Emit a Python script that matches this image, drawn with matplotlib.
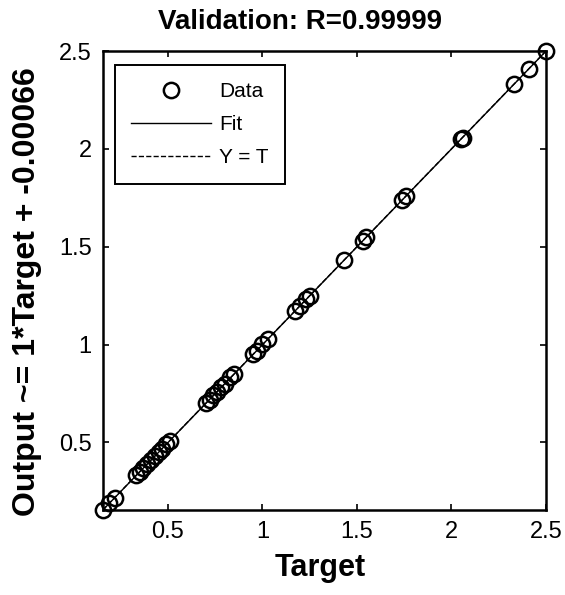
import matplotlib.pyplot as plt
import numpy as np

plt.rcParams['font.family'] = ['Liberation Sans', 'DejaVu Sans']

# Validation set: targets and network outputs
targets = [0.155, 0.19, 0.22,
           0.33, 0.35, 0.37, 0.39, 0.41, 0.43, 0.45, 0.47, 0.49, 0.51,
           0.70, 0.72, 0.74, 0.76, 0.78, 0.80, 0.83, 0.85,
           0.95, 0.97, 1.00, 1.03,
           1.17, 1.20, 1.23, 1.25,
           1.43, 1.53, 1.55, 1.74, 1.76, 2.05, 2.06, 2.33, 2.41, 2.50]
outputs = [0.153, 0.192, 0.218,
           0.332, 0.348, 0.371, 0.388, 0.412, 0.429, 0.452, 0.468, 0.491, 0.508,
           0.701, 0.719, 0.742, 0.758, 0.781, 0.799, 0.832, 0.848,
           0.951, 0.968, 1.002, 1.029,
           1.171, 1.198, 1.232, 1.249,
           1.431, 1.528, 1.552, 1.738, 1.761, 2.049, 2.058, 2.331, 2.408, 2.499]

slope = 1.0
offset = -0.00066
r_value = 0.99999

lims = [0.155, 2.5]
ticks = [0.5, 1, 1.5, 2, 2.5]

fig = plt.figure(figsize=(5.65, 5.95), dpi=100)
ax = fig.add_axes([0.182, 0.143, 0.784, 0.771])

t = np.array(targets)
ax.plot(t, outputs, 'o', mfc='none', mec='black', mew=1.8, ms=11,
        label='Data', clip_on=False, zorder=3)
fit_x = np.array(lims)
ax.plot(fit_x, slope * fit_x + offset, '-', color='black', lw=1.0, label='Fit')
ax.plot(fit_x, fit_x, '--', color='black', lw=1.0, label='Y = T')

ax.set_xlim(lims)
ax.set_ylim(lims)
ax.set_xticks(ticks)
ax.set_yticks(ticks)
ax.set_xticklabels(['0.5', '1', '1.5', '2', '2.5'])
ax.set_yticklabels(['0.5', '1', '1.5', '2', '2.5'])
ax.tick_params(direction='in', top=True, right=True, length=4, width=1.2,
               labelsize=17, pad=8)
for s in ax.spines.values():
    s.set_linewidth(1.8)

ax.set_title('Validation: R=%.5f' % r_value, fontsize=20, fontweight='bold',
             x=0.445, y=1.03)
ax.set_xlabel('Target', fontsize=22, fontweight='bold')
ax.xaxis.set_label_coords(0.49, -0.095)
ax.set_ylabel('Output ~= %g*Target + %.5f' % (slope, offset), fontsize=23,
              fontweight='bold')
ax.yaxis.set_label_coords(-0.137, 0.475)

leg = ax.legend(loc='upper left', bbox_to_anchor=(0.027, 0.969), borderaxespad=0,
                fontsize=15, handlelength=3.8, handletextpad=0.4, labelspacing=0.68,
                borderpad=0.8, fancybox=False, edgecolor='black', framealpha=1)
leg.get_frame().set_linewidth(1.4)

fig.savefig('out.png', dpi=100)
